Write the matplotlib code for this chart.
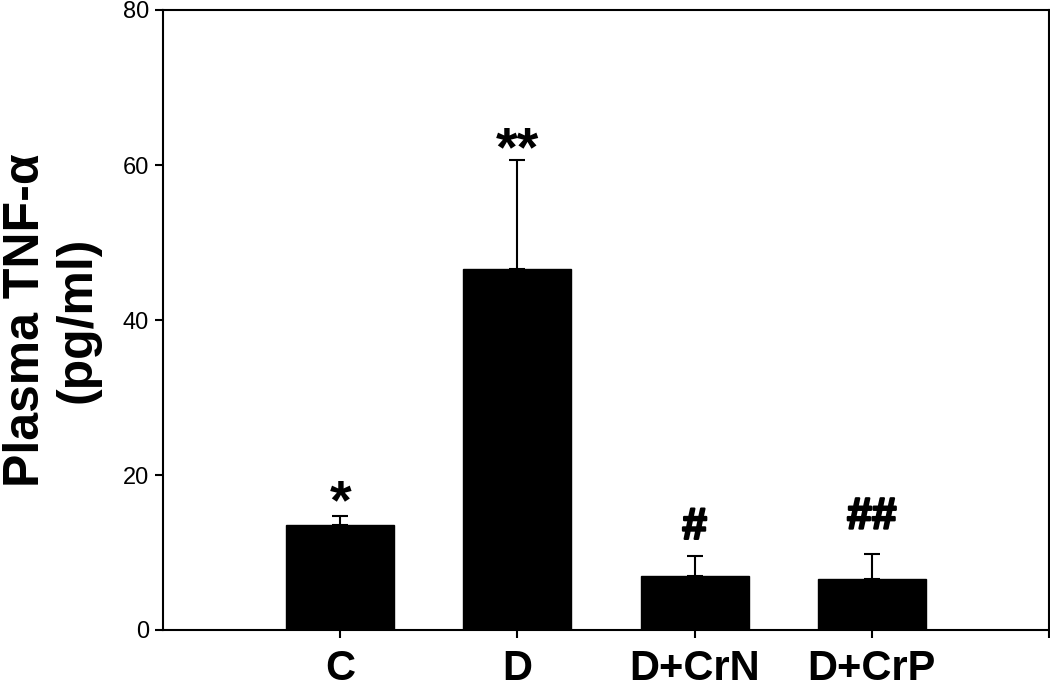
import matplotlib
matplotlib.use("Agg")
import matplotlib.pyplot as plt
import matplotlib.patheffects as pe

groups = ["C", "D", "D+CrN", "D+CrP"]
means = [13.6, 46.6, 7.0, 6.6]
errors = [1.1, 14.0, 2.5, 3.2]
marks = ["*", "**", "#", "##"]


def main() -> None:
    plt.rcParams["font.family"] = ["Liberation Sans", "DejaVu Sans"]
    fig = plt.figure(figsize=(10.5, 6.97), dpi=100)
    ax = fig.add_axes([163 / 1050, 1 - 630 / 697, 886 / 1050, 620 / 697])

    xs = list(range(1, len(groups) + 1))
    ax.bar(xs, means, width=0.61, color="black", edgecolor="black", zorder=2)
    ax.errorbar(xs, means, yerr=[[0] * len(errors), errors], fmt="none",
                ecolor="black", elinewidth=1.5, capsize=6, capthick=1.5, zorder=1)

    # annotation offsets above the cap (pixels) and font sizes
    offsets = {"*": 12, "**": 9, "#": 29, "##": 37}
    sizes = {"*": 40, "**": 40, "#": 32, "##": 32}
    for x, m, e, lab in zip(xs, means, errors, marks):
        t = ax.annotate(lab, (x, m + e), xytext=(0, offsets[lab] * 0.72),
                        textcoords="offset points", ha="center", va="center",
                        fontsize=sizes[lab], fontweight="bold")
        if "#" in lab:
            t.set_path_effects([pe.withStroke(linewidth=1.6, foreground="black")])

    ax.set_xlim(0, 5)
    ax.set_ylim(0, 80)
    ax.set_yticks([0, 20, 40, 60, 80])
    ax.set_xticks(xs + [5])
    ax.set_xticklabels(groups + [""], fontsize=30, fontweight="bold")
    ax.tick_params(axis="y", labelsize=17, length=6, width=1.5, direction="out", pad=4)
    ax.tick_params(axis="x", length=6, width=1.5, direction="out", pad=8)
    for s in ax.spines.values():
        s.set_linewidth(1.5)

    fig.text(52 / 1050, 1 - 320 / 697, "Plasma TNF-α\n(pg/ml)", rotation=90,
             ha="center", va="center", multialignment="center",
             fontsize=36, fontweight="bold", linespacing=1.15)

    fig.savefig("out.png", dpi=100)


if __name__ == "__main__":
    main()
